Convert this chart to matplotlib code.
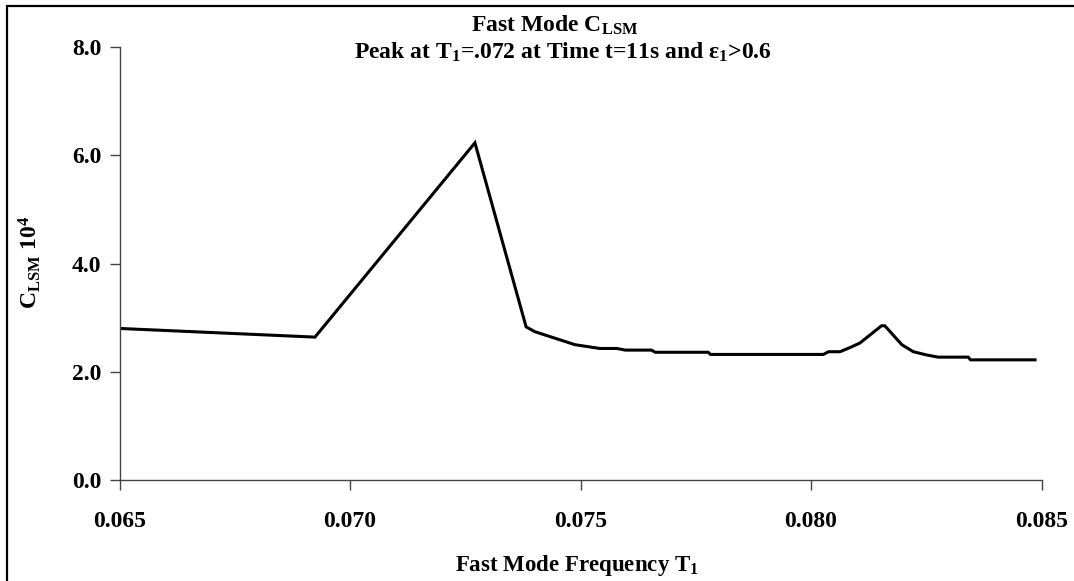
import matplotlib
matplotlib.use("Agg")
import matplotlib.pyplot as plt
from matplotlib.patches import Rectangle

plt.rcParams['font.family'] = ['Liberation Serif', 'DejaVu Serif']
plt.rcParams['font.weight'] = 'bold'
plt.rcParams['mathtext.fontset'] = 'custom'
plt.rcParams['mathtext.rm'] = 'Liberation Serif:bold'
plt.rcParams['mathtext.it'] = 'Liberation Serif:bold'
plt.rcParams['mathtext.bf'] = 'Liberation Serif:bold'

# Data
freq = [0.06500, 0.06924, 0.07271, 0.07382, 0.07401, 0.07488, 0.07542, 0.07579,
        0.07597, 0.07654, 0.07662, 0.07777, 0.07782, 0.08027, 0.08038, 0.08063,
        0.08077, 0.08088, 0.08106, 0.08153, 0.08160, 0.08197, 0.08222, 0.08251,
        0.08276, 0.08341, 0.08346, 0.08486]
clsm = [2.80, 2.64, 6.23, 2.83, 2.74, 2.50, 2.43, 2.43,
        2.40, 2.40, 2.36, 2.36, 2.32, 2.32, 2.37, 2.37,
        2.42, 2.46, 2.53, 2.85, 2.85, 2.50, 2.37, 2.31,
        2.27, 2.27, 2.22, 2.22]
x_ticks = [0.065, 0.070, 0.075, 0.080, 0.085]
y_ticks = [0.0, 2.0, 4.0, 6.0, 8.0]

fig = plt.figure(figsize=(10.74, 5.81), dpi=100)
ax = fig.add_axes([119.5/1074, 101/581, 922/1074, 433/581])

ax.plot(freq, clsm, color='black', linewidth=2.2, solid_joinstyle='miter')
ax.set_xlim(0.065, 0.085)
ax.set_ylim(0, 8)
ax.set_xticks(x_ticks)
ax.set_xticklabels([f"{v:.3f}" for v in x_ticks])
ax.set_yticks(y_ticks)
ax.set_yticklabels([f"{v:.1f}" for v in y_ticks])
ax.tick_params(axis='both', labelsize=17, direction='out', length=7, width=1, color='#444444', pad=6)
ax.tick_params(axis='x', pad=15)
for lab in ax.get_xticklabels() + ax.get_yticklabels():
    lab.set_fontweight('bold')
for s in ['top', 'right']:
    ax.spines[s].set_visible(False)
for s in ['left', 'bottom']:
    ax.spines[s].set_color('#444444')
    ax.spines[s].set_linewidth(1)

fig.text(555/1074, 1 - 25/581, r"Fast Mode C$_{\mathrm{LSM}}$", ha='center', va='center',
         fontsize=17, fontweight='bold')
fig.text(563/1074, 1 - 52/581, r"Peak at T$_1$=.072 at Time t=11s and ε$_1$>0.6", ha='center', va='center',
         fontsize=17, fontweight='bold')
fig.text(577/1074, 1 - 566/581, r"Fast Mode Frequency T$_1$", ha='center', va='center',
         fontsize=16.5, fontweight='bold')
fig.text(30/1074, 1 - 262/581, r"C$_{\mathrm{LSM}}$ 10$^4$", ha='center', va='center',
         fontsize=17, fontweight='bold', rotation=90)

# outer chart border
fig.patches.append(Rectangle((7/1074, -0.05), 1.2, 1 - 6/581 + 0.05, transform=fig.transFigure,
                             fill=False, edgecolor='black', linewidth=1.6, figure=fig))

fig.savefig("out.png", dpi=100)
